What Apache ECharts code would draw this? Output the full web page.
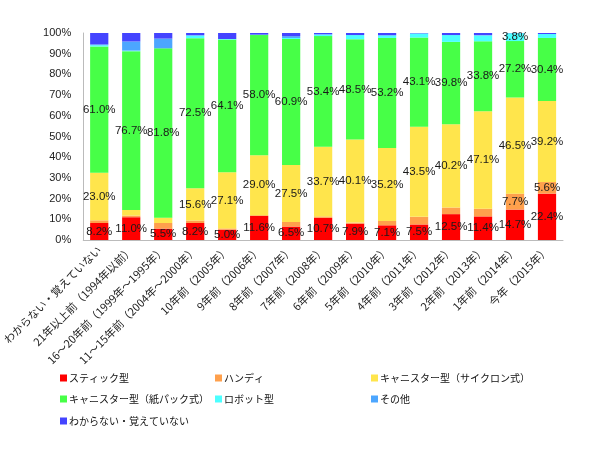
<!DOCTYPE html>
<html lang="ja">
<head>
    <meta charset="UTF-8">
    <title>掃除機のタイプ</title>
    <style>
        html,body{margin:0;padding:0;background:#fff;}
        #chart{width:598px;height:450px;}
    </style>
    <script src="https://cdn.jsdelivr.net/npm/echarts@6/dist/echarts.min.js"></script>
</head>
<body>
<div id="chart"></div>
<script>
    // 購入時期
    var categories = ['わからない・覚えていない','21年以上前（1994年以前）','16～20年前（1999年～1995年）','11～15年前（2004年～2000年）',
        '10年前（2005年）','9年前（2006年）','8年前（2007年）','7年前（2008年）','6年前（2009年）','5年前（2010年）',
        '4年前（2011年）','3年前（2012年）','2年前（2013年）','1年前（2014年）','今年（2015年）'];

    var stick    = [8.2, 11.0, 5.5, 8.2, 5.0, 11.6, 6.5, 10.7, 7.9, 7.1, 7.5, 12.5, 11.4, 14.7, 22.4];
    var handy    = [1.3, 0.8, 2.7, 1.2, 0.6, 0.4, 2.2, 0.7, 0.5, 2.1, 3.7, 3.2, 3.7, 7.7, 5.6];
    var cyclone  = [23.0, 2.7, 2.6, 15.6, 27.1, 29.0, 27.5, 33.7, 40.1, 35.2, 43.5, 40.2, 47.1, 46.5, 39.2];
    var paperbag = [61.0, 76.7, 81.8, 72.5, 64.1, 58.0, 60.9, 53.4, 48.5, 53.2, 43.1, 39.8, 33.8, 27.2, 30.4];
    var robot    = [0.6, 0.3, 0, 1.2, 0.3, 0.2, 0.5, 0.7, 2.0, 1.3, 2.0, 3.3, 2.8, 3.8, 1.9];
    var other    = [0.4, 4.4, 4.7, 0.3, 0, 0, 0.9, 0.2, 0, 0, 0, 0, 0.2, 0, 0];
    var unknown  = [5.5, 4.1, 2.7, 1.0, 2.9, 0.8, 1.5, 0.6, 1.0, 1.1, 0.2, 1.0, 1.0, 0.1, 0.5];

    var yTicks = [0, 10, 20, 30, 40, 50, 60, 70, 80, 90, 100];

    var seriesNames = ['スティック型','ハンディ','キャニスター型（サイクロン式）','キャニスター型（紙パック式）','ロボット型','その他','わからない・覚えていない'];
    var seriesData = [stick, handy, cyclone, paperbag, robot, other, unknown];
    var colors = ['#FF0000','#FFA04C','#FFE54C','#47FF47','#4CFFFF','#4CA6FF','#4444FF'];
    var labelled = [true, true, true, true, true, false, false];

    window.onload = function () {
        var myChart = echarts.init(document.getElementById('chart'));

        var series = [];
        for (var i = 0; i < seriesNames.length; i++) {
            series.push({
                name: seriesNames[i],
                type: 'bar',
                stack: 'total',
                barWidth: '57%',
                itemStyle: {color: colors[i]},
                label: {
                    show: labelled[i],
                    position: 'inside',
                    color: '#1a1a1a',
                    fontSize: 11.5,
                    fontFamily: 'Liberation Sans',
                    formatter: function (p) {
                        return p.value >= 3.8 ? p.value.toFixed(1) + '%' : '';
                    }
                },
                emphasis: {disabled: true},
                data: seriesData[i]
            });
        }

        // 凡例は3列で配置
        var legendPos = [[60, 373], [215, 373], [371, 373], [60, 394], [215, 394], [371, 394], [60, 416]];
        var legends = [];
        for (var j = 0; j < seriesNames.length; j++) {
            legends.push({
                data: [seriesNames[j]],
                left: legendPos[j][0],
                top: legendPos[j][1],
                icon: 'rect',
                itemWidth: 7,
                itemHeight: 7,
                itemGap: 0,
                padding: 0,
                selectedMode: false,
                textStyle: {
                    fontSize: 10,
                    color: '#111',
                    padding: [0, 0, 0, -3],
                    fontFamily: 'Noto Sans CJK JP'
                }
            });
        }

        var option = {
            animation: false,
            color: colors,
            legend: legends,
            grid: {left: 80, right: 35, top: 33, bottom: 210},
            xAxis: {
                type: 'category',
                data: categories,
                axisTick: {show: false},
                axisLine: {lineStyle: {color: '#bbbbbb', width: 1}},
                axisLabel: {
                    rotate: 45,
                    interval: 0,
                    margin: 8,
                    fontSize: 11,
                    color: '#222',
                    fontFamily: 'Noto Sans CJK JP'
                }
            },
            yAxis: {
                type: 'value',
                min: yTicks[0],
                max: yTicks[yTicks.length - 1],
                interval: 10,
                axisTick: {show: false},
                axisLine: {show: true, lineStyle: {color: '#bbbbbb', width: 1}},
                splitLine: {show: false},
                axisLabel: {
                    margin: 12,
                    fontSize: 11,
                    color: '#222',
                    fontFamily: 'Liberation Sans',
                    formatter: '{value}%'
                }
            },
            series: series
        };
        myChart.setOption(option);
    };
</script>
</body>
</html>
